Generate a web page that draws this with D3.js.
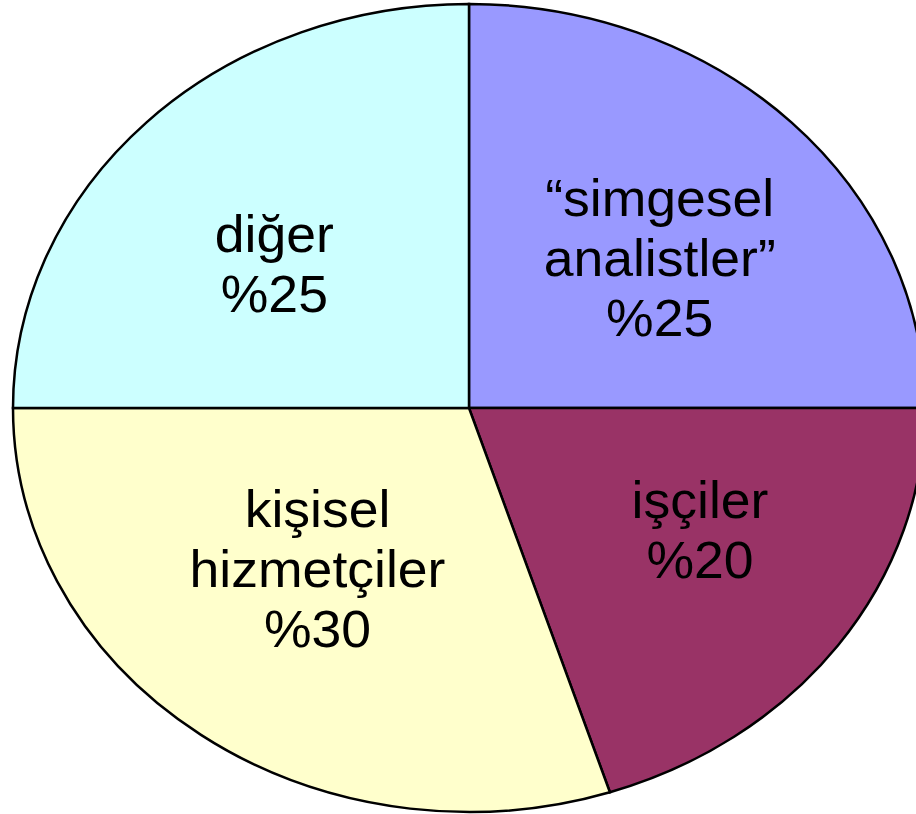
<!DOCTYPE html>
<html>
<head>
<meta charset="utf-8">
<script src="https://cdn.jsdelivr.net/npm/d3@7"></script>
<style>
  html, body { margin: 0; padding: 0; background: white; }
  #chart { width: 916px; height: 814px; overflow: hidden; }
</style>
</head>
<body>
<div id="chart"></div>
<script>
var categories = ["“simgesel analistler”", "işçiler", "kişisel hizmetçiler", "diğer"];
var labelLines = [["“simgesel", "analistler”"], ["işçiler"], ["kişisel", "hizmetçiler"], ["diğer"]];
var shares = [25, 20, 30, 25];
var sliceColors = ["#9999FF", "#993366", "#FFFFCC", "#CCFFFF"];

// small hand nudges for the labels (layout only)
var labelNudge = [[-6, -2], [6, -2], [12, -10], [2, 4]];

function makeChart() {
  var width = 916, height = 814;
  var cx = 469, cy = 408;
  var rx = 456, ry = 404;

  var data = categories.map(function(c, i) {
    return { name: c, value: shares[i], lines: labelLines[i], color: sliceColors[i], nudge: labelNudge[i] };
  });

  var svg = d3.select("#chart").append("svg")
    .attr("width", width)
    .attr("height", height);

  var pie = d3.pie()
    .sort(null)
    .value(function(d) { return d.value; });

  var arc = d3.arc()
    .innerRadius(0)
    .outerRadius(ry);

  // pie is drawn as a circle and squashed into an ellipse
  var g = svg.append("g")
    .attr("transform", "translate(" + cx + "," + cy + ") scale(" + (rx / ry) + ",1)");

  var arcs = pie(data);

  g.selectAll("path")
    .data(arcs)
    .enter()
    .append("path")
      .attr("d", arc)
      .attr("fill", function(d) { return d.data.color; })
      .attr("stroke", "#000")
      .attr("stroke-width", 2.5)
      .attr("vector-effect", "non-scaling-stroke");

  // centroid on the unit circle, then spread out a bit more sideways than up/down
  var labelArc = d3.arc()
    .innerRadius(1)
    .outerRadius(1);

  var fontSize = 52, lineH = 60;

  var labels = svg.append("g")
    .attr("transform", "translate(" + cx + "," + cy + ")");

  arcs.forEach(function(d) {
    var c = labelArc.centroid(d);
    var x = c[0] * rx * 0.61 + d.data.nudge[0];
    var y = c[1] * ry * 0.52 + d.data.nudge[1];
    var lines = d.data.lines.concat(["%" + d.data.value]);
    var top = y - (lines.length - 1) * lineH / 2 + fontSize * 0.36;
    var t = labels.append("text")
      .attr("text-anchor", "middle")
      .attr("font-family", "Liberation Sans, Arial, sans-serif")
      .attr("font-size", fontSize)
      .attr("transform", "translate(" + x + ",0) scale(1.03,1) translate(" + (-x) + ",0)")
      .attr("fill", "#000");
    lines.forEach(function(line, i) {
      t.append("tspan")
        .attr("x", x)
        .attr("y", top + i * lineH)
        .text(line);
    });
  });
}

makeChart();
</script>
</body>
</html>
